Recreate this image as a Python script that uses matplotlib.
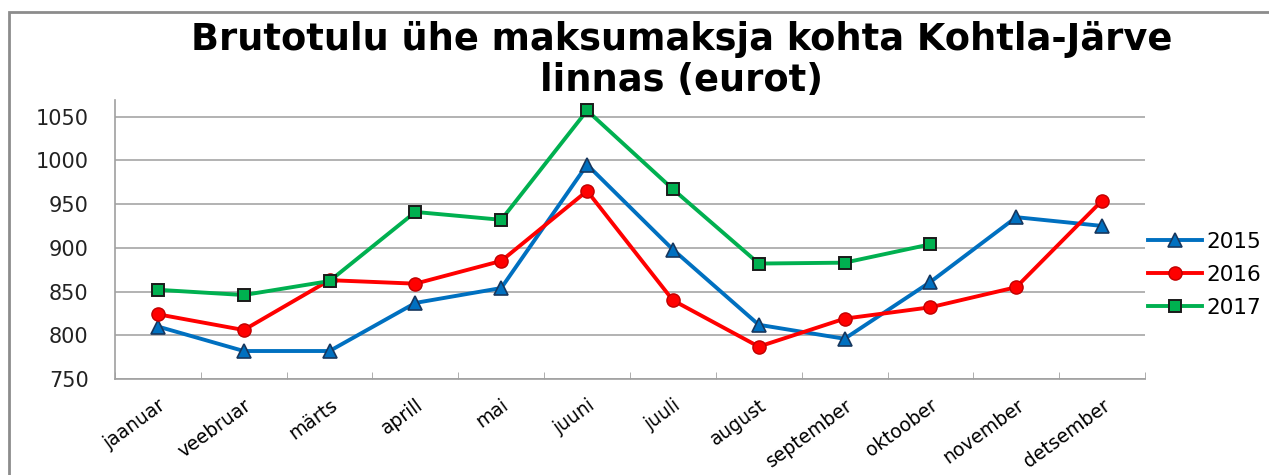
import matplotlib
matplotlib.use("Agg")
import matplotlib.pyplot as plt
from matplotlib.patches import Rectangle

months = ["jaanuar", "veebruar", "märts", "aprill", "mai", "juuni",
          "juuli", "august", "september", "oktoober", "november", "detsember"]
v2015 = [810, 782, 782, 837, 854, 995, 898, 812, 796, 861, 935, 925]
v2016 = [824, 806, 863, 859, 885, 965, 840, 787, 819, 832, 855, 954]
v2017 = [852, 846, 862, 941, 932, 1057, 967, 882, 883, 904]
yticks = [750, 800, 850, 900, 950, 1000, 1050]

plt.rcParams["font.family"] = "DejaVu Sans"

fig = plt.figure(figsize=(12.69, 4.75), dpi=100)
ax = fig.add_axes([0.0906, 0.2021, 0.8117, 0.5874])

# chart frame (cropped at right/bottom)
fig.patches.append(Rectangle((9 / 1269, -0.1), 1.2, 1 - 12 / 475 + 0.1,
                             transform=fig.transFigure, fill=False,
                             edgecolor="#8c8c8c", linewidth=2))

x = list(range(len(months)))
ax.plot(x, v2015, color="#0070C0", lw=2.8, marker="^", ms=9.5,
        mfc="#0070C0", mec="#17375E", mew=1.2, label="2015", zorder=3)
ax.plot(x, v2016, color="#FF0000", lw=2.8, marker="o", ms=9.5,
        mfc="#FF0000", mec="#C00000", mew=1.0, label="2016", zorder=3)
ax.plot(x[:len(v2017)], v2017, color="#00B050", lw=2.8, marker="s", ms=8.5,
        mfc="#00B050", mec="#1a1a1a", mew=1.4, label="2017", zorder=3)

ax.set_xlim(-0.5, len(months) - 0.5)
ax.set_ylim(750, 1069)
ax.set_yticks(yticks)
ax.tick_params(axis="y", length=0, labelsize=15, pad=19, colors="#222222")
ax.set_xticks(x)
ax.set_xticklabels(months, rotation=36, ha="right", rotation_mode="anchor",
                   fontsize=13.5)
ax.tick_params(axis="x", length=0, pad=12)
ax.set_xticks([i - 0.5 for i in range(len(months) + 1)], minor=True)
ax.tick_params(axis="x", which="minor", direction="in", length=5,
               color="#a0a0a0")
ax.grid(axis="y", color="#a6a6a6", lw=1.2)
ax.set_axisbelow(True)
for s in ("top", "right"):
    ax.spines[s].set_visible(False)
for s in ("left", "bottom"):
    ax.spines[s].set_color("#a0a0a0")
    ax.spines[s].set_linewidth(1.2)

fig.text(0.537, 1 - 60 / 475,
         "Brutotulu ühe maksumaksja kohta Kohtla-Järve\nlinnas (eurot)",
         ha="center", va="center", fontsize=26.5, fontweight="bold",
         linespacing=1.15)

ax.legend(loc="center left", bbox_to_anchor=(0.995, 0.373), frameon=False,
          fontsize=15.5, handlelength=2.5, handletextpad=0.2,
          labelspacing=0.6, borderaxespad=0)

fig.savefig("out.png", dpi=100)
